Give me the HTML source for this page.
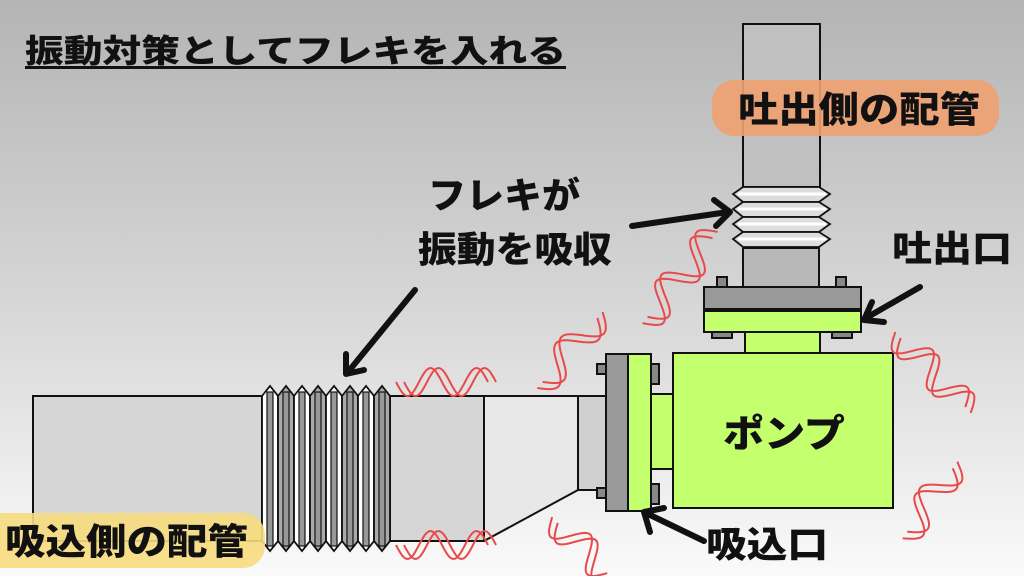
<!DOCTYPE html>
<html><head><meta charset="utf-8"><style>
html,body{margin:0;padding:0}
body{width:1024px;height:576px;overflow:hidden;background:linear-gradient(#b4b4b4,#d8d8d8 55%,#fafafa);}
svg{display:block}
text{font-family:"Noto Sans CJK JP","Liberation Sans",sans-serif;font-weight:900;fill:#111}
</style></head><body>
<svg id="s" width="1024" height="576" viewBox="0 0 1024 576" xmlns="http://www.w3.org/2000/svg">
<g stroke="#111" stroke-width="2">
<rect x="33" y="396" width="229" height="145" fill="#d6d6d6"/>
<path d="M390 396 H605 V490 H578 L484 541 H390 Z" fill="#e8e8e8"/>
<rect x="390" y="396" width="94" height="145" fill="#d6d6d6"/>
<rect x="578" y="396" width="28" height="94" fill="#d0d0d0"/>
<g id="bel"></g>
<rect x="597" y="364" width="9" height="10" fill="#888"/><rect x="597" y="488" width="9" height="10" fill="#888"/>
<rect x="651" y="364" width="8" height="20" fill="#888"/><rect x="651" y="484" width="8" height="20" fill="#888"/>
<rect x="606" y="354" width="22" height="157" fill="#999"/>
<rect x="628" y="354" width="23" height="157" fill="#c4ff6e"/>
<rect x="651" y="394" width="22" height="75" fill="#c4ff6e"/>
<rect x="673" y="353" width="220" height="155" fill="#c4ff6e"/>
<rect x="745" y="332" width="75" height="21" fill="#c4ff6e"/>
<rect x="717" y="277" width="10" height="10" fill="#888"/><rect x="836" y="277" width="10" height="10" fill="#888"/>
<rect x="712" y="332" width="20" height="6" fill="#888"/><rect x="832" y="332" width="20" height="6" fill="#888"/>
<rect x="704" y="287" width="157" height="22" fill="#999"/>
<rect x="704" y="311" width="157" height="21" fill="#c4ff6e"/>
<rect x="743" y="248" width="76" height="39" fill="#b8b8b8"/>
<rect x="743" y="24" width="77" height="163" fill="#c0c0c0"/>
<g id="tbel"></g>
</g>
<rect x="712" y="80" width="287" height="56" rx="22" fill="#f0a070" opacity="0.9"/>
<rect x="-20" y="513" width="285" height="55" rx="22" fill="#f7dc80" opacity="0.9"/>
<g id="waves" fill="none" stroke="#e84a4a" stroke-width="2"></g>
<g stroke="#111" stroke-width="6" fill="none" stroke-linecap="round" stroke-linejoin="round">
<path d="M632 226 L728 212 M714 200 L730 212 L716 226"/>
<path d="M415 290 L348 372 M346 354 L346 374 L364 370"/>
<path d="M920 287 L866 318 M872 302 L864 320 L884 322"/>
<path d="M704 541 L648 514 M650 532 L644 512 L664 508"/>
</g>
<text x="25" y="62" font-size="32" textLength="541" lengthAdjust="spacingAndGlyphs">振動対策としてフレキを入れる</text>
<rect x="25" y="66" width="541" height="3" fill="#111"/>
<text x="738" y="122" font-size="36" textLength="242" lengthAdjust="spacingAndGlyphs">吐出側の配管</text>
<text x="5" y="554" font-size="36" textLength="243" lengthAdjust="spacingAndGlyphs">吸込側の配管</text>
<text x="428" y="208" font-size="36" textLength="152" lengthAdjust="spacingAndGlyphs">フレキが</text>
<text x="418" y="262" font-size="36" textLength="194" lengthAdjust="spacingAndGlyphs">振動を吸収</text>
<text x="892" y="261" font-size="36" textLength="120" lengthAdjust="spacingAndGlyphs">吐出口</text>
<text x="706" y="557" font-size="36" textLength="122" lengthAdjust="spacingAndGlyphs">吸込口</text>
<text x="723" y="447" font-size="38" textLength="122" lengthAdjust="spacingAndGlyphs">ポンプ</text>
</svg>
<script>
var NS="http://www.w3.org/2000/svg";
function el(p,t,a){var e=document.createElementNS(NS,t);for(var k in a)e.setAttribute(k,a[k]);p.appendChild(e);return e;}
var b=document.getElementById("bel");
for(var i=0;i<8;i++){var x=262+i*16;
el(b,"path",{d:"M"+x+" 396 L"+(x+8)+" 386 L"+(x+16)+" 396 V541 L"+(x+8)+" 551 L"+x+" 541 Z",fill:(i%2?"#aaa":"#fff"),"stroke-width":"1.8"});
el(b,"rect",{x:x+5,y:392,width:6,height:154,fill:"#999","stroke-width":"1.2"});}
var t=document.getElementById("tbel");
for(var i=0;i<4;i++){var y=187+i*15;
el(t,"path",{d:"M743 "+y+" L819 "+y+" L830 "+(y+7)+" L819 "+(y+15)+" L743 "+(y+15)+" L733 "+(y+7)+" Z",fill:"#ddd","stroke-width":"1.8"});
el(t,"path",{d:"M738 "+(y+7)+" H826",stroke:"#fff","stroke-width":"3"});}
var w=document.getElementById("waves");
function wave(x1,y1,x2,y2,n,amp){var dx=x2-x1,dy=y2-y1,L=Math.hypot(dx,dy),ux=dx/L,uy=dy/L,nx=-uy,ny=ux;
[-4,4].forEach(function(o){var d="";for(var s=0;s<=60;s++){var f=s/60,a=Math.sin(f*n*2*Math.PI)*amp;
var px=x1+dx*f+nx*a+ux*o,py=y1+dy*f+ny*a+uy*o;d+=(s?"L":"M")+px.toFixed(1)+" "+py.toFixed(1);}
el(w,"path",{d:d});});}
wave(400,382,492,382,2,14);
wave(400,545,492,545,2,14);
wave(645,320,715,235,2,16);
wave(540,385,600,315,1.5,15);
wave(555,520,610,576,1.5,15);
wave(898,335,968,410,2,15);
wave(905,535,955,465,1.5,15);
</script>
</body></html>
